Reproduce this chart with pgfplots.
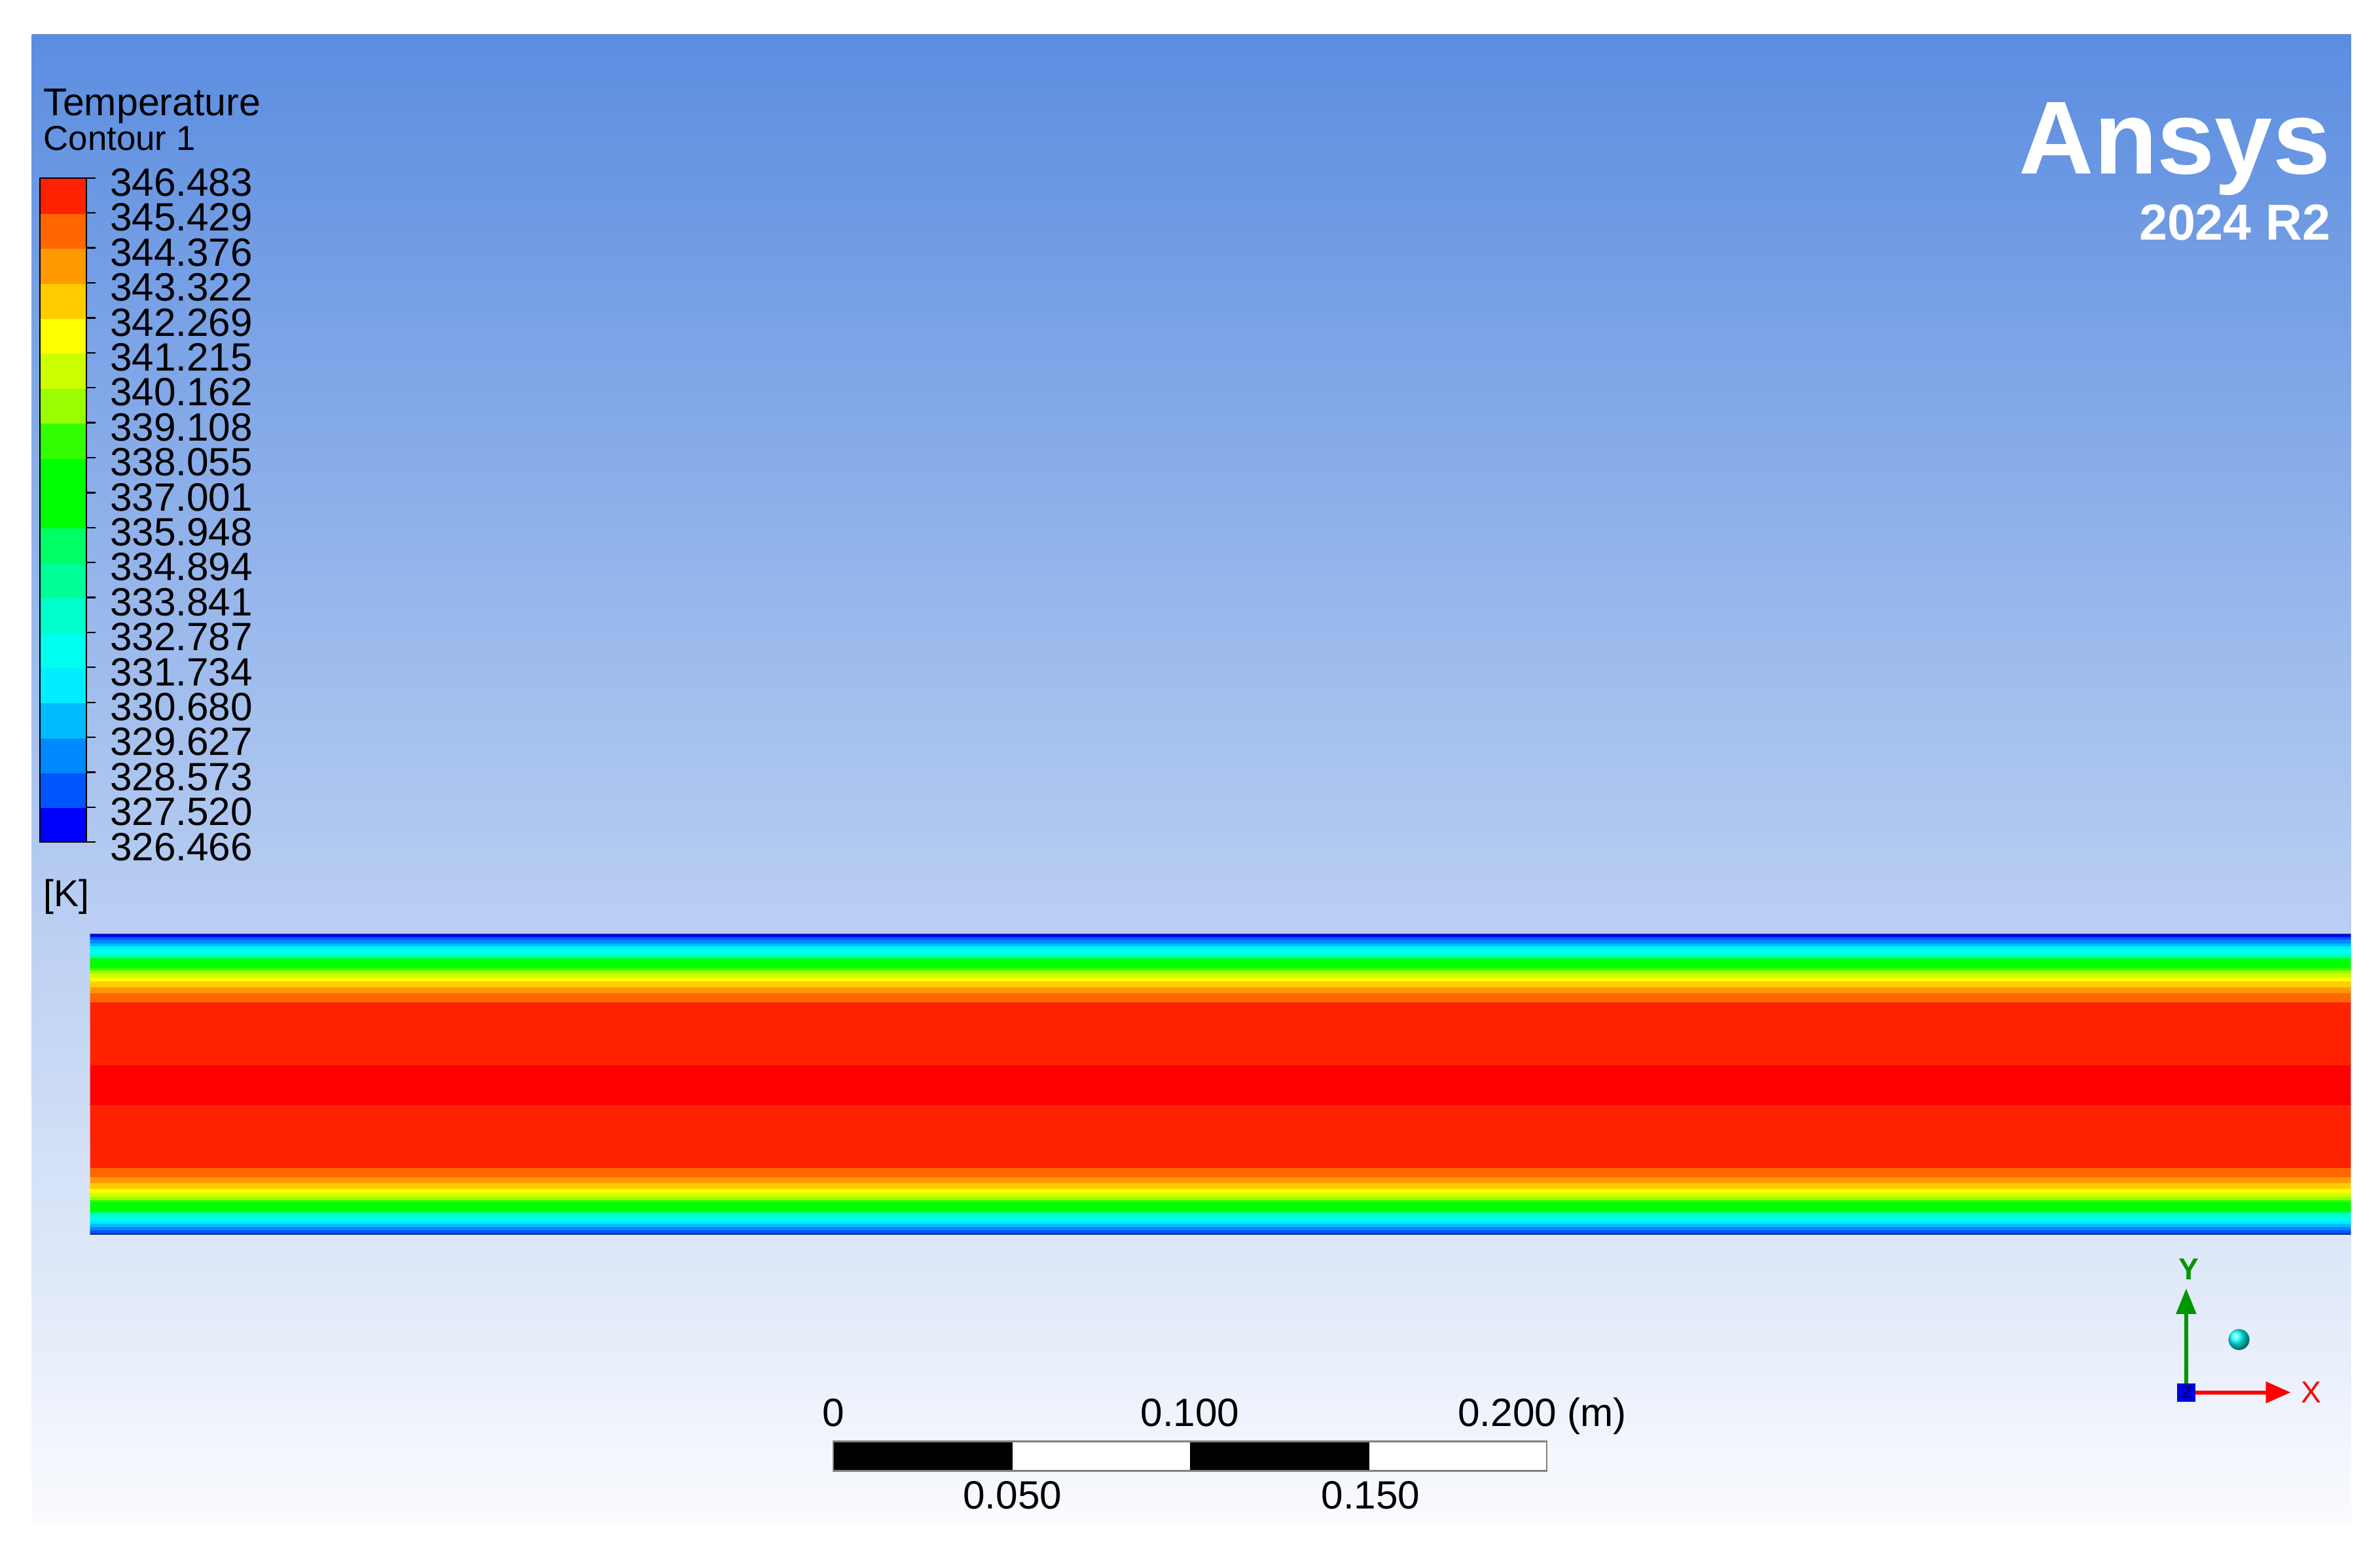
\documentclass[border=0pt]{standalone}
\usepackage{pgfplots}
\pgfplotsset{compat=1.18}
\usepackage{fontspec}
\setmainfont{Liberation Sans}
\definecolor{bgtop}{RGB}{91,141,224}
\definecolor{bgbot}{RGB}{250,251,254}
\definecolor{pipeedge}{RGB}{60,64,95}
\definecolor{ygreen}{RGB}{0,150,0}
\pgfplotsset{colormap={ansys}{rgb255=(0,0,255) rgb255=(0,85,255) rgb255=(0,136,255) rgb255=(0,187,255) rgb255=(0,238,255) rgb255=(0,255,238) rgb255=(0,255,204) rgb255=(0,255,153) rgb255=(0,255,102) rgb255=(0,255,0) rgb255=(0,255,0) rgb255=(51,255,0) rgb255=(153,255,0) rgb255=(204,255,0) rgb255=(255,255,0) rgb255=(255,204,0) rgb255=(255,153,0) rgb255=(255,102,0) rgb255=(255,34,0) rgb255=(255,0,0)}}
\begin{document}
\begin{tikzpicture}[x=0.3pt,y=0.3pt]
\useasboundingbox (0,0) rectangle (1568,1024);
\fill[white] (0,0) rectangle (1568,1024);
\shade[top color=bgtop, bottom color=bgbot] (21,21.4) rectangle (1548.8,1001.3);

% legend header
\node[anchor=base west, inner sep=0pt, font=\fontsize{7.65}{8}\selectfont] at (28,948) {Temperature};
\node[anchor=base west, inner sep=0pt, font=\fontsize{6.84}{7}\selectfont] at (28,925) {Contour 1};
\node[anchor=base west, inner sep=0pt, font=\fontsize{7.4}{8}\selectfont] at (28,427) {[K]};

% colour bar
\begin{axis}[at={(7.89pt,140.79pt)}, anchor=south west, scale only axis,
  width=9.21pt, height=131.25pt,
  xmin=0, xmax=1, ymin=326.466, ymax=346.483,
  colormap name=ansys, colormap access=direct,
  axis on top, axis line style={draw=black, line width=0.3pt},
  xtick=\empty,
  ytick={326.466,327.520,328.573,329.627,330.680,331.734,332.787,333.841,334.894,335.948,337.001,338.055,339.108,340.162,341.215,342.269,343.322,344.376,345.429,346.483},
  yticklabels={326.466,327.520,328.573,329.627,330.680,331.734,332.787,333.841,334.894,335.948,337.001,338.055,339.108,340.162,341.215,342.269,343.322,344.376,345.429,346.483},
  ytick pos=right, yticklabel pos=right, tick align=outside,
  major tick length=1.74pt, tick style={black, line width=0.3pt},
  yticklabel style={anchor=west, inner sep=0pt, xshift=2.7pt, yshift=-0.9pt, font=\fontsize{7.8}{8}\selectfont},
]
\addplot[surf, shader=flat corner, mesh/cols=2, point meta=explicit] table[meta=c] {
x y c
0 326.466 0
1 326.466 0
0 327.520 1
1 327.520 1
0 328.573 2
1 328.573 2
0 329.627 3
1 329.627 3
0 330.680 4
1 330.680 4
0 331.734 5
1 331.734 5
0 332.787 6
1 332.787 6
0 333.841 7
1 333.841 7
0 334.894 8
1 334.894 8
0 335.948 9
1 335.948 9
0 337.001 10
1 337.001 10
0 338.055 11
1 338.055 11
0 339.108 12
1 339.108 12
0 340.162 13
1 340.162 13
0 341.215 14
1 341.215 14
0 342.269 15
1 342.269 15
0 343.322 16
1 343.322 16
0 344.376 17
1 344.376 17
0 345.429 18
1 345.429 18
0 346.483 18
1 346.483 18
};
\end{axis}

% pipe temperature contour
\begin{axis}[at={(17.82pt,63.33pt)}, anchor=south west, scale only axis,
  width=446.82pt, height=59.31pt,
  xmin=0, xmax=0.6335, ymin=-0.042, ymax=0.042,
  hide axis, colormap name=ansys, colormap access=direct]
\addplot[surf, shader=flat corner, mesh/cols=2, point meta=explicit] table[meta=c] {
x y c
0 -0.042 0
0.6335 -0.042 0
0 -0.0415 1
0.6335 -0.0415 1
0 -0.04066 2
0.6335 -0.04066 2
0 -0.03974 3
0.6335 -0.03974 3
0 -0.03883 4
0.6335 -0.03883 4
0 -0.03791 5
0.6335 -0.03791 5
0 -0.03699 6
0.6335 -0.03699 6
0 -0.03607 7
0.6335 -0.03607 7
0 -0.03567 8
0.6335 -0.03567 8
0 -0.03539 9
0.6335 -0.03539 9
0 -0.0341 10
0.6335 -0.0341 10
0 -0.03282 11
0.6335 -0.03282 11
0 -0.03218 12
0.6335 -0.03218 12
0 -0.03127 13
0.6335 -0.03127 13
0 -0.0302 14
0.6335 -0.0302 14
0 -0.0290 15
0.6335 -0.0290 15
0 -0.02741 16
0.6335 -0.02741 16
0 -0.02574 17
0.6335 -0.02574 17
0 -0.02314 18
0.6335 -0.02314 18
0 -0.00556 19
0.6335 -0.00556 19
0 0.00556 18
0.6335 0.00556 18
0 0.02314 17
0.6335 0.02314 17
0 0.02574 16
0.6335 0.02574 16
0 0.02741 15
0.6335 0.02741 15
0 0.0290 14
0.6335 0.0290 14
0 0.0302 13
0.6335 0.0302 13
0 0.03127 12
0.6335 0.03127 12
0 0.03218 11
0.6335 0.03218 11
0 0.03282 10
0.6335 0.03282 10
0 0.0341 9
0.6335 0.0341 9
0 0.03539 8
0.6335 0.03539 8
0 0.03567 7
0.6335 0.03567 7
0 0.03607 6
0.6335 0.03607 6
0 0.03699 5
0.6335 0.03699 5
0 0.03791 4
0.6335 0.03791 4
0 0.03883 3
0.6335 0.03883 3
0 0.03974 2
0.6335 0.03974 2
0 0.04066 1
0.6335 0.04066 1
0 0.0415 0
0.6335 0.0415 0
0 0.042 0
0.6335 0.042 0
};
\draw[pipeedge, line width=0.45pt] (axis cs:0.6335,0.0423) -- (axis cs:-0.0004,0.0423) -- (axis cs:-0.0004,-0.0423) -- (axis cs:0.6335,-0.0423);
\end{axis}

% Ansys logo
\node[anchor=base east, inner sep=0pt, text=white, font=\fontsize{20.5}{22}\selectfont\bfseries] at (1536,909.7) {Ansys};
\node[anchor=base east, inner sep=0pt, text=white, font=\fontsize{10}{11}\selectfont\bfseries] at (1536,865.9) {2024 R2};

% scale bar
\fill[black] (549,55.2) rectangle (667,74.6);
\fill[white] (667,55.2) rectangle (784,74.6);
\fill[black] (784,55.2) rectangle (902,74.6);
\fill[white] (902,55.2) rectangle (1019,74.6);
\draw[gray, line width=0.35pt] (549,55.2) rectangle (1019,74.6);
\begin{scope}[every node/.style={inner sep=0pt, font=\fontsize{7.8}{8}\selectfont}]
\node[anchor=base] at (549,84.7) {0};
\node[anchor=base] at (784,84.7) {0.100};
\node[anchor=base] at (993,84.7) {0.200};
\node[anchor=base west] at (1032,84.7) {(m)};
\node[anchor=base] at (667,30) {0.050};
\node[anchor=base] at (903,30) {0.150};
\end{scope}

% axis triad
\fill[ygreen] (1439.0,113) rectangle (1441.6,159.4);
\fill[ygreen] (1433.5,158.6) -- (1447.1,158.6) -- (1440.3,175.2) -- cycle;
\fill[red] (1446,105.6) rectangle (1492.8,108.2);
\fill[red] (1492.8,99.7) -- (1509,106.9) -- (1492.8,114.1) -- cycle;
\fill[blue!90!black] (1434.3,100.9) rectangle (1446.3,112.9);
\node[inner sep=0pt, text=blue!50!black, font=\fontsize{3.5}{4}\selectfont\bfseries] at (1440.8,106.9) {Z};
\node[inner sep=0pt, text=ygreen, font=\fontsize{6}{6}\selectfont\bfseries] at (1442.2,188.1) {Y};
\node[inner sep=0pt, text=red, font=\fontsize{6}{6}\selectfont] at (1522.7,106.9) {X};
\shade[ball color=cyan] (1475.1,141.7) circle (6.9);
\end{tikzpicture}
\end{document}
